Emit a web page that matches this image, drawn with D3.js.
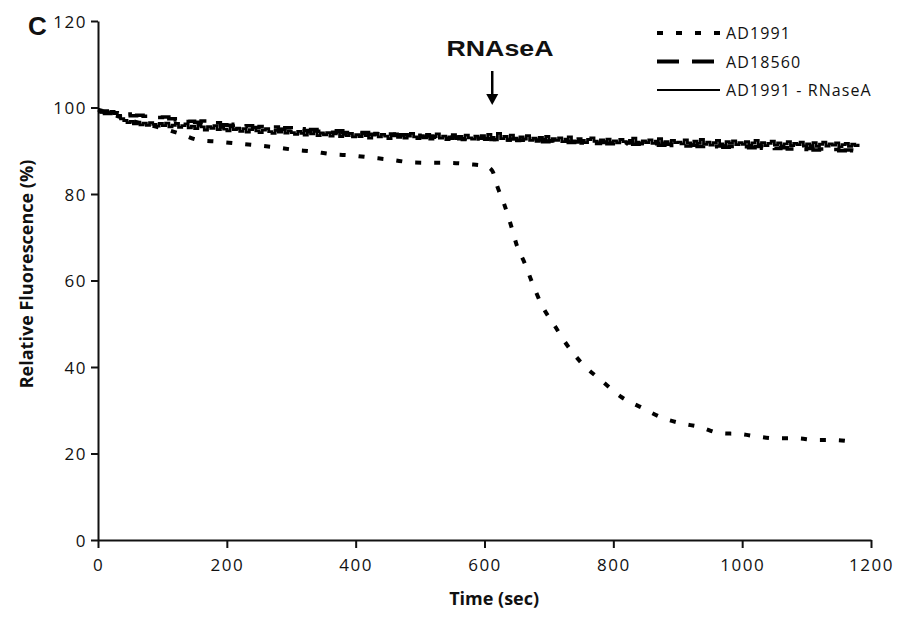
<!DOCTYPE html>
<html>
<head>
<meta charset="utf-8">
<script src="https://cdn.jsdelivr.net/npm/d3@7"></script>
<style>
  body { margin: 0; background: #fff; }
  text { font-family: "Open Sans", "DejaVu Sans", sans-serif; fill: #111; }
</style>
</head>
<body>
<script>
// AD1991 (dotted)
const ad1991Time = [0, 30, 60, 100, 130, 155, 187, 215, 244, 275, 306, 334, 363, 394, 425, 456, 487, 516, 547, 576, 600, 612,
  620, 630, 641, 650, 663, 674, 689, 710, 723, 749, 782, 813, 847, 875, 905, 935, 966, 997, 1024, 1054, 1085, 1115, 1144, 1175];
const ad1991Value = [99.5, 98.0, 96.6, 95.2, 93.8, 92.5, 92.1, 91.7, 91.3, 90.8, 90.2, 89.8, 89.2, 88.9, 88.4, 87.9, 87.3, 87.2, 87.2, 86.9, 86.5, 85.4,
  81.7, 77.9, 72.8, 68.2, 63.8, 59.5, 54.3, 49.3, 46.2, 41.2, 36.8, 33.0, 30.4, 28.3, 27.0, 26.1, 24.7, 24.5, 23.9, 23.5, 23.5, 23.1, 23.1, 22.6];

// AD18560 (long dashes), one reading every 10 s
const ad18560Step = 10;
const ad18560Value = [
  99.0, 98.6, 98.8, 98.4, 98.5, 98.1, 98.2, 98.0, 98.1, 97.7, 97.8, 97.4, 97.1, 97.3, 96.8, 96.6, 96.9, 96.3, 96.5, 96.0,
  95.9, 96.1, 95.6, 95.8, 95.4, 95.6, 95.2, 95.5, 95.0, 95.3, 94.9, 95.1, 94.7, 94.9, 94.5, 94.7, 94.3, 94.6, 94.2, 94.4,
  94.0, 94.2, 93.8, 94.0, 93.6, 93.9, 93.5, 93.7, 93.3, 93.6, 93.2, 93.4, 93.1, 93.3, 92.9, 93.2, 92.8, 93.0, 92.7, 92.9,
  92.8, 92.6, 92.9, 92.5, 92.7, 92.4, 92.6, 92.2, 92.5, 92.1, 92.3, 92.0, 92.2, 91.9, 92.1, 91.8, 92.0, 91.7, 91.9, 91.6,
  91.8, 91.6, 91.9, 91.5, 91.7, 91.4, 91.6, 91.3, 91.5, 91.2, 91.4, 91.1, 91.3, 91.0, 91.2, 90.9, 91.1, 90.8, 91.0, 90.7,
  90.9, 90.7, 91.0, 90.6, 90.8, 90.5, 90.7, 90.4, 90.6, 90.3, 90.5, 90.2, 90.4, 90.1, 90.3, 90.0, 90.2, 90.0, 90.1];

// AD1991 - RNaseA (solid, noisy), one reading every 5 s
const rnaseStep = 5;
const rnaseValue = [
  99.4, 98.9, 99.3, 98.7, 99.1, 98.6, 98.2, 97.4, 97.0, 96.5, 96.8, 96.2, 96.6, 96.0, 96.4, 95.9, 96.5, 96.1, 95.7, 96.3,
  95.8, 96.4, 95.5, 95.9, 96.3, 95.4, 95.8, 96.2, 95.3, 95.7, 95.1, 95.9, 95.5, 94.8, 95.6, 95.2, 95.8, 94.9, 95.4, 95.0,
  94.6, 95.5, 94.9, 95.2, 94.5, 95.1, 94.3, 94.9, 95.4, 94.6, 94.2, 94.8, 95.1, 94.4, 94.0, 94.7, 94.3, 95.0, 94.1, 94.6,
  94.2, 93.8, 94.5, 94.0, 93.6, 94.3, 93.9, 94.6, 93.5, 94.1, 93.7, 94.2, 93.4, 93.9, 94.4, 93.3, 93.8, 93.5, 94.0, 93.2,
  93.7, 93.3, 94.1, 93.5, 92.9, 93.6, 94.0, 93.2, 93.8, 93.4, 92.8, 93.5, 93.9, 93.1, 93.6, 92.9, 93.4, 94.0, 93.2, 92.8,
  93.5, 93.0, 93.8, 92.7, 93.3, 93.9, 92.9, 93.4, 92.6, 93.2, 93.7, 92.8, 93.3, 92.5, 93.6, 93.0, 92.7, 93.4, 92.9, 93.5,
  92.6, 93.8, 93.1, 92.5, 94.0, 92.8, 93.3, 92.4, 93.6, 92.9, 92.3, 93.2, 92.7, 93.5, 92.4, 92.9, 92.2, 93.1, 92.6, 93.3,
  92.2, 92.8, 92.4, 93.0, 92.1, 92.7, 93.2, 92.3, 92.0, 92.8, 92.4, 91.9, 92.6, 93.0, 92.2, 91.8, 92.5, 92.1, 92.7, 91.9,
  92.3, 91.8, 92.6, 92.1, 91.7, 92.4, 92.9, 92.0, 91.6, 92.3, 91.9, 92.5, 91.7, 92.2, 92.8, 91.8, 92.1, 91.5, 92.4, 91.9,
  92.0, 91.6, 92.5, 91.8, 91.4, 92.2, 91.7, 92.6, 91.5, 92.0, 91.3, 91.9, 92.4, 91.6, 91.2, 92.1, 91.7, 92.3, 91.4, 91.9,
  91.5, 92.1, 91.3, 91.8, 92.4, 91.4, 91.9, 91.2, 91.7, 92.2, 91.3, 91.8, 91.1, 91.6, 92.1, 91.2, 91.7, 91.4, 92.0, 91.1,
  91.6, 91.2, 91.9, 91.0, 91.5, 92.0, 91.1, 91.6, 91.3, 91.8, 90.9, 91.4, 91.7, 91.0, 91.5, 91.2, 91.6];

const xTicks = [0, 200, 400, 600, 800, 1000, 1200];
const yTicks = [0, 20, 40, 60, 80, 100, 120];
const legendNames = ["AD1991", "AD18560", "AD1991 - RNaseA"];
const rnaseAddedAt = 612;

const W = 900, H = 619;
const margin = { top: 21, right: 29, bottom: 79, left: 98 };
const width = W - margin.left - margin.right;
const height = H - margin.top - margin.bottom;

const svg = d3.select("body").append("svg")
    .attr("width", W)
    .attr("height", H);

const g = svg.append("g")
    .attr("transform", "translate(" + margin.left + "," + margin.top + ")");

const x = d3.scaleLinear().domain([0, 1200]).range([0, width]);
const y = d3.scaleLinear().domain([0, 120]).range([height, 0]);

// axes
const xAxis = d3.axisBottom(x).tickValues(xTicks).tickFormat(d3.format("d")).tickSize(8).tickSizeOuter(0);
const yAxis = d3.axisLeft(y).tickValues(yTicks).tickFormat(d3.format("d")).tickSize(7).tickSizeOuter(0);

const gx = g.append("g")
    .attr("transform", "translate(0," + height + ")")
    .call(xAxis);
const gy = g.append("g").call(yAxis);

[gx, gy].forEach(function (a) {
    a.attr("font-size", null).attr("font-family", null);
    a.select(".domain").attr("stroke", "#111").attr("stroke-width", 2);
    a.selectAll(".tick line").attr("stroke", "#111").attr("stroke-width", 2);
    a.selectAll(".tick text")
        .attr("fill", "#111")
        .style("font-size", "17px")
        .style("letter-spacing", "1.5px");
});
gx.selectAll(".tick text").attr("dy", "1.2em");
gy.selectAll(".tick text").attr("x", -11).attr("dy", "0.36em");

// lines
const ad1991 = ad1991Time.map((t, i) => ({ t: t, v: ad1991Value[i] }));
const ad18560 = ad18560Value.map((v, i) => ({ t: i * ad18560Step, v: v }));
const rnase = rnaseValue.map((v, i) => ({ t: i * rnaseStep, v: v }));

const smooth = d3.line().x(d => x(d.t)).y(d => y(d.v)).curve(d3.curveMonotoneX);
const stepped = d3.line().x(d => x(d.t)).y(d => y(d.v)).curve(d3.curveStepAfter);

g.append("path")
    .datum(rnase)
    .attr("d", stepped)
    .attr("fill", "none")
    .attr("stroke", "#000")
    .attr("stroke-width", 2.8);

g.append("path")
    .datum(ad18560)
    .attr("d", stepped)
    .attr("fill", "none")
    .attr("stroke", "#000")
    .attr("stroke-width", 3.5)
    .attr("stroke-dasharray", "22,13");

g.append("path")
    .datum(ad1991)
    .attr("d", smooth)
    .attr("fill", "none")
    .attr("stroke", "#000")
    .attr("stroke-width", 4)
    .attr("stroke-dasharray", "6,13");

// axis titles
svg.append("text")
    .attr("x", margin.left + x(615))
    .attr("y", 605)
    .attr("text-anchor", "middle")
    .style("font-size", "18px")
    .attr("font-weight", "bold")
    .text("Time (sec)");

svg.append("text")
    .attr("transform", "translate(33,274) rotate(-90)")
    .attr("text-anchor", "middle")
    .style("font-size", "18px")
    .attr("font-weight", "bold")
    .text("Relative Fluorescence (%)");

// panel letter
svg.append("text")
    .attr("x", 28)
    .attr("y", 35)
    .style("font-size", "26px")
    .attr("font-weight", "bold")
    .style("font-family", "'Liberation Sans', Arial, sans-serif")
    .text("C");

// RNaseA addition marker
const ax = margin.left + x(rnaseAddedAt);
svg.append("text")
    .attr("x", 500)
    .attr("y", 56)
    .attr("text-anchor", "middle")
    .style("font-size", "22px")
    .attr("font-weight", "bold")
    .attr("textLength", 107)
    .attr("lengthAdjust", "spacingAndGlyphs")
    .style("font-family", "'Liberation Sans', Arial, sans-serif")
    .text("RNAseA");

svg.append("line")
    .attr("x1", ax).attr("x2", ax)
    .attr("y1", 71).attr("y2", 96)
    .attr("stroke", "#000")
    .attr("stroke-width", 2.5);
svg.append("path")
    .attr("d", "M" + (ax - 6) + ",94 L" + (ax + 6) + ",94 L" + ax + ",105 Z")
    .attr("fill", "#000");

// legend
const legendDash = ["6,13", "22,13", null];
const legendWidth = [4, 4, 2];
const legend = svg.append("g").attr("transform", "translate(657,33)");
legendNames.forEach(function (name, i) {
    const row = legend.append("g").attr("transform", "translate(0," + (i * 28.5) + ")");
    row.append("line")
        .attr("x1", 0).attr("x2", i == 1 ? 59 : 63)
        .attr("y1", 0).attr("y2", 0)
        .attr("stroke", "#000")
        .attr("stroke-width", legendWidth[i])
        .attr("stroke-dasharray", legendDash[i]);
    row.append("text")
        .attr("x", 69)
        .attr("y", 6)
        .style("font-size", "16px")
        .style("letter-spacing", "1.1px")
        .text(name);
});
</script>
</body>
</html>
